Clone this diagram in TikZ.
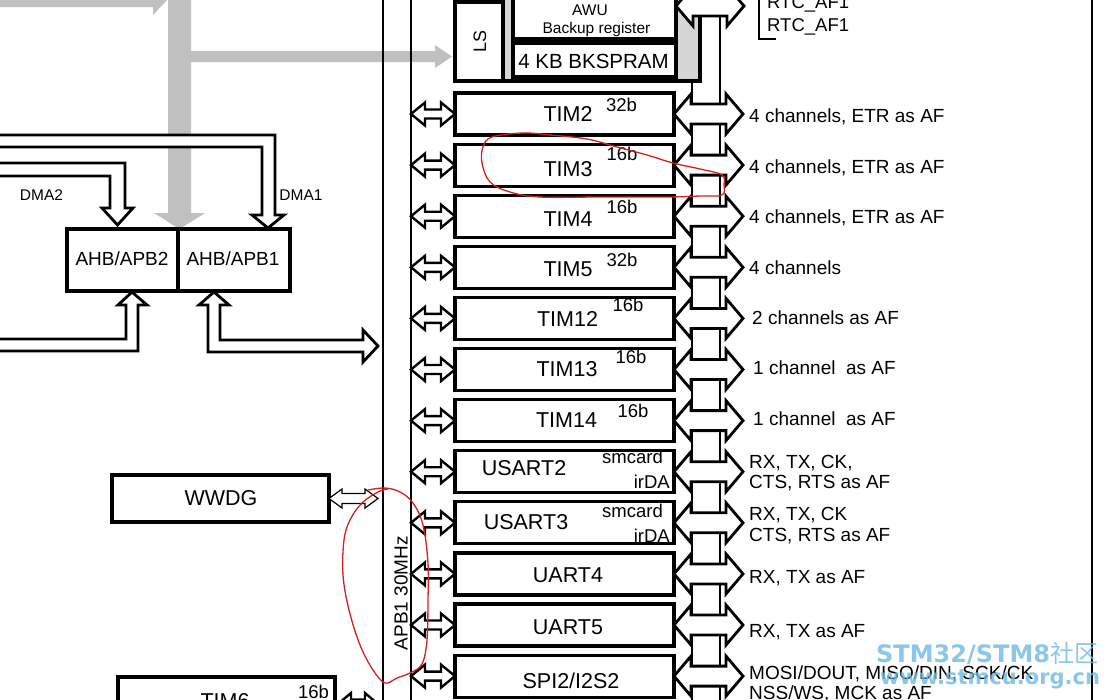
\documentclass[tikz,border=0pt]{standalone}
\usepackage{fontspec}
\setmainfont{Liberation Sans}
\newfontfamily\cjkfont{Noto Sans CJK SC}
\newfontfamily\wmfont{DejaVu Sans}
\usetikzlibrary{calc}
\definecolor{arrgray}{RGB}{192,192,192}
\definecolor{rtcgray}{RGB}{214,214,214}
\definecolor{wmblue}{RGB}{110,185,228}
\definecolor{annot}{RGB}{214,32,32}
\newcommand\fsz[1]{\fontsize{#1}{#1}\selectfont}
% double-headed horizontal arrow: left point, right point, head length, head half, shaft half, style
\newcommand\dblharrow[6]{%
  \filldraw[#6] let \p1=(#1), \p2=(#2) in
  (\x1,\y1) -- (\x1+#3,\y1+#4) -- (\x1+#3,\y1+#5) -- (\x2-#3,\y1+#5) -- (\x2-#3,\y1+#4) -- (\x2,\y1)
  -- (\x2-#3,\y1-#4) -- (\x2-#3,\y1-#5) -- (\x1+#3,\y1-#5) -- (\x1+#3,\y1-#4) -- cycle;}
\begin{document}
\begin{tikzpicture}[x=1pt,y=-1pt,
  box/.style={draw=black, fill=white, line width=3.2pt, outer sep=0pt, inner sep=0pt, minimum width=219pt, minimum height=42pt},
  plainbox/.style={draw=black, fill=white, line width=3.2pt, outer sep=0pt, inner sep=0pt},
  smallarrow/.style={draw=black, fill=white, line width=2.4pt, line join=miter},
  bigarrow/.style={draw=black, fill=white, line width=2.8pt, line join=miter},
  thinarrow/.style={draw=black, fill=white, line width=1.2pt, line join=miter},
  hollow/.style={draw=black, fill=white, line width=2.8pt, line join=miter},
  grayarrow/.style={fill=arrgray, draw=none},
  busline/.style={line width=2.5pt},
  lbl/.style={anchor=base, inner sep=0pt, font=\fsz{21.5}},
  bit/.style={anchor=base, inner sep=0pt, font=\fsz{18.5}},
  rt/.style={anchor=base west, inner sep=0pt, font=\fsz{19}},
  sm/.style={anchor=base, inner sep=0pt, font=\fsz{15.5}},
  annotline/.style={draw=annot, line width=1.3pt},
]
\useasboundingbox (0,0) rectangle (1106,699);
\begin{scope}
\clip (0,0) rectangle (1106,699);
\fill[white] (0,0) rectangle (1106,699);

% named reference coordinates
\coordinate (busL) at (383,0);
\coordinate (busR) at (411,0);
\coordinate (rtip) at (743,0);

% gray arrows
\fill[grayarrow] (-5,-9) -- (153,-9) -- (153,-17) -- (168,-1) -- (153,15) -- (153,7) -- (-5,7) -- cycle;
\fill[grayarrow] (168,-5) -- (191,-5) -- (191,213) -- (205,213) -- (179.5,229) -- (154,213) -- (168,213) -- cycle;
\fill[grayarrow] (191,51) -- (435,51) -- (435,45) -- (452,56.5) -- (435,68) -- (435,62) -- (191,62) -- cycle;

% bus lines
\draw[busline] (383,-5) -- (383,705);
\draw[busline] (411,-5) -- (411,705);
\draw[line width=2.5pt] (692,81) -- (692,705);
\draw[line width=1.3pt] (720,16) -- (720,705);
\draw[line width=2.6pt] (1092,-5) -- (1092,705);

% RTC block
\fill[rtcgray] (503,-5) rectangle (700,81);
\node[plainbox, minimum width=48pt, minimum height=79pt] (ls) at (479,41.5) {};
\node[plainbox, minimum width=163pt, minimum height=44pt] (awu) at (594.5,17) {};
\node[plainbox, minimum width=163pt, minimum height=34pt] (bksp) at (594.5,60) {};
\draw[line width=3.2pt] (455,81) -- (700,81) -- (700,-5);
\node[inner sep=0pt, rotate=90, font=\fsz{18}] (lstxt) at (480,41.5) {LS};
\node[sm] (awutxt) at (590,15) {AWU};
\node[sm] (bkreg) at (596.5,33) {Backup register};
\node[anchor=base, inner sep=0pt, font=\fsz{20.5}] (bksptxt) at (593.5,68) {4 KB BKSPRAM};
\coordinate (rtcA) at (676,6);
\coordinate (rtcB) at (744,6);
\dblharrow{rtcA}{rtcB}{17pt}{20pt}{10pt}{bigarrow}
\draw[line width=1.3pt] (759,-5) -- (759,39) -- (776,39);
\node[anchor=base west, inner sep=0pt, font=\fsz{18.5}] (af1a) at (767,8.3) {RTC\_AF1};
\node[anchor=base west, inner sep=0pt, font=\fsz{18.5}] (af1b) at (767,31.7) {RTC\_AF1};

% APB1 peripheral boxes
\foreach \nm [count=\i from 0] in {tim2,tim3,tim4,tim5,tim12,tim13,tim14,usart2,usart3,uart4,uart5,spi2}{
  \node[box] (\nm) at (564.5,{114+51.1*\i}) {};
}
\foreach \nm in {tim2,tim3,tim4,tim5,tim12,tim13,tim14,usart2,usart3,uart4,uart5,spi2}{
  \dblharrow{\nm.west -| busR}{\nm.west}{14pt}{11.5pt}{4.5pt}{smallarrow}
  \dblharrow{\nm.east}{\nm.east -| rtip}{17pt}{20pt}{10pt}{bigarrow}
}

% box labels
\node[lbl] (l2) at (568,121.5) {TIM2};
\node[lbl] (l3) at (568,176.5) {TIM3};
\node[lbl] (l4) at (568,226.5) {TIM4};
\node[lbl] (l5) at (568,276.5) {TIM5};
\node[lbl] (l12) at (567.5,326.5) {TIM12};
\node[lbl] (l13) at (567,376) {TIM13};
\node[lbl] (l14) at (566.5,427) {TIM14};
\node[lbl] (lu2) at (524,475) {USART2};
\node[lbl] (lu3) at (526,529) {USART3};
\node[lbl] (lu4) at (568,582) {UART4};
\node[lbl] (lu5) at (568,634) {UART5};
\node[lbl] (lspi) at (571,688) {SPI2/I2S2};
\node[bit] (b2) at (621.5,111.5) {32b};
\node[bit] (b3) at (622,160) {16b};
\node[bit] (b4) at (622,213.5) {16b};
\node[bit] (b5) at (622,266.5) {32b};
\node[bit] (b12) at (628,311.5) {16b};
\node[bit] (b13) at (631,363.5) {16b};
\node[bit] (b14) at (633,417) {16b};
\node[bit, anchor=base east] (sm2) at (663,463) {smcard};
\node[bit, anchor=base east] (ir2) at (670,488) {irDA};
\node[bit, anchor=base east] (sm3) at (663,517) {smcard};
\node[bit, anchor=base east] (ir3) at (670,542) {irDA};

% right labels
\node[rt] (r2) at (749,122.8) {4 channels, ETR as AF};
\node[rt] (r3) at (749,173.8) {4 channels, ETR as AF};
\node[rt] (r4) at (749,223.8) {4 channels, ETR as AF};
\node[rt] (r5) at (749,274.8) {4 channels};
\node[rt] (r12) at (752,324.8) {2 channels as AF};
\node[rt] (r13) at (753,374.8) {1 channel\ \ as AF};
\node[rt] (r14) at (753,425.8) {1 channel\ \ as AF};
\node[rt] (ru2a) at (749,468.8) {RX, TX, CK,};
\node[rt] (ru2b) at (749,488.8) {CTS, RTS as AF};
\node[rt] (ru3a) at (749,520.8) {RX, TX, CK};
\node[rt] (ru3b) at (749,541.8) {CTS, RTS as AF};
\node[rt] (ru4) at (749,583.8) {RX, TX as AF};
\node[rt] (ru5) at (749,637.8) {RX, TX as AF};
\node[rt] (rspa) at (749,679.8) {MOSI/DOUT, MISO/DIN, SCK/CK};
\node[rt] (rspb) at (749,699.8) {NSS/WS, MCK as AF};

% APB1 label
\node[inner sep=0pt, rotate=90, font=\fsz{19}] (apb1) at (401,593) {APB1 30MHz};

% AHB bridges
\node[plainbox, minimum width=111pt, minimum height=62pt] (ahb2) at (122.5,260) {};
\node[plainbox, minimum width=112pt, minimum height=62pt] (ahb1) at (234,260) {};
\node[anchor=base, inner sep=0pt, font=\fsz{19}] (ahb2t) at (122,265) {AHB/APB2};
\node[anchor=base, inner sep=0pt, font=\fsz{19}] (ahb1t) at (233,265) {AHB/APB1};

% DMA hollow arrows
\filldraw[hollow] (-5,135) -- (275,135) -- (275,215) -- (284,215) -- (268,228) -- (252,215) -- (262,215) -- (262,147) -- (-5,147) -- cycle;
\filldraw[hollow] (-5,163) -- (125,163) -- (125,208) -- (133,208) -- (117.5,225) -- (102,208) -- (110,208) -- (110,176) -- (-5,176) -- cycle;
\node[sm] (dma2) at (41.5,200) {DMA2};
\node[sm] (dma1) at (301,200) {DMA1};

% arrows below bridges
\filldraw[hollow] (-5,339) -- (126,339) -- (126,305) -- (118,305) -- (132,292) -- (147,305) -- (138,305) -- (138,351) -- (-5,351) -- cycle;
\filldraw[hollow] (214,292) -- (229,305) -- (220,305) -- (220,340) -- (363,340) -- (363,330) -- (378,346) -- (363,362) -- (363,352) -- (208,352) -- (208,305) -- (199,305) -- cycle;

% WWDG
\node[plainbox, minimum width=217pt, minimum height=47pt] (wwdg) at (220.5,498.5) {};
\node[lbl] (wwdgt) at (221,505) {WWDG};
\coordinate (wwtip) at (378,500);
\dblharrow{wwdg.east}{wwtip}{13pt}{9.5pt}{5pt}{thinarrow}

% TIM6 (cut off)
\node[plainbox, minimum width=217pt, minimum height=56pt] (tim6) at (226.5,705) {};
\node[lbl] (tim6t) at (225,708.5) {TIM6};
\node[bit] (b6) at (313.5,698) {16b};
\coordinate (t6a) at (338,704);
\coordinate (t6b) at (378,704);
\dblharrow{t6a}{t6b}{13pt}{11pt}{4.5pt}{smallarrow}

% red hand-drawn annotations
\draw[annotline] plot[smooth cycle, tension=0.6] coordinates {(492,137) (523,133) (550,135) (587,139) (617,147) (647,155) (673,163) (700,169) (722,175) (724,185) (722,195) (700,196) (667,197) (600,197) (540,197) (510,192) (490,182) (482,163) (483,147)};
\draw[annotline] plot[smooth, tension=0.6] coordinates {(368,490) (385,488) (400,492) (413,503) (423,525) (428,563) (428,600) (427,640) (422,664) (410,673) (397,678) (385,683) (373,670) (360,645) (349,610) (343,575) (344,540) (350,520) (362,503) (378,492) (388,489)};

% watermark
\node[anchor=base west, inner sep=0pt, text=wmblue, text opacity=0.8, font=\wmfont\bfseries\fsz{24}] (wm1) at (876,662) {STM32/STM8{\cjkfont\mdseries 社区}};
\node[anchor=base west, inner sep=0pt, text=wmblue, text opacity=0.8, font=\wmfont\bfseries\fsz{21}] (wm2) at (880,684) {www.stmcu.org.cn};
\end{scope}
\end{tikzpicture}
\end{document}
